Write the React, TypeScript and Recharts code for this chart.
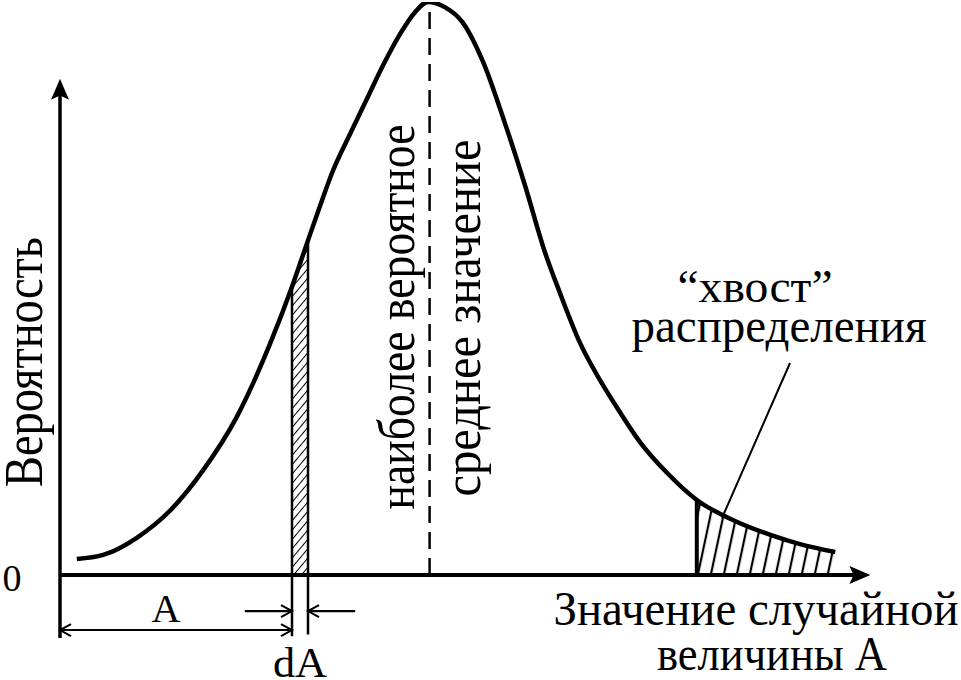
import React from "react";
import { ComposedChart, Line, Area, XAxis, YAxis, ReferenceLine } from "recharts";

// значения случайной величины A и плотность вероятности
const aValues = [
  0.21, 0.54, 0.96, 1.38, 1.79, 2.21, 2.63, 2.9, 3.1, 3.25, 3.41, 3.63, 3.84, 4.04, 4.25, 4.43, 4.6,
  4.81, 5.03, 5.29, 5.56, 5.81, 6.06, 6.25, 6.5, 6.75, 7.0, 7.25, 7.59, 7.96, 8.41, 8.88, 9.25, 9.69,
];
const density = [
  2.8, 3.5, 6.5, 11.3, 18.3, 27.6, 40.5, 50.3, 58.4, 64.4, 70.5, 77.1, 83.2, 89.0, 94.4, 98.1, 100,
  99.1, 96.5, 89.5, 78.9, 68.1, 56.4, 49.2, 40.5, 34.0, 28.4, 23.2, 17.8, 13.1, 9.6, 7.0, 5.4, 4.0,
];

const curve = aValues.map((a, i) => ({ a, p: density[i] }));

const A = 2.9;
const dA = 0.2;
const modeValue = 4.62;
const tailFrom = 7.96;

const strip = curve.filter((d) => d.a >= A - 1e-9 && d.a <= A + dA + 1e-9);
const tail = curve.filter((d) => d.a >= tailFrom);
const pAt = (a: number) => curve.find((d) => Math.abs(d.a - a) < 1e-9)?.p ?? 0;

// концы осей и выносных линий
const xAxisEnd = 10.13;
const yAxisTop = 86.6;
const belowAxis = -11;
const dimA = -9.6;
const dimDA = -6.3;

type Kind = "open" | "solid";

const head = (tx: number, ty: number, fx: number, fy: number, kind: Kind, key: string) => {
  const dx = tx - fx;
  const dy = ty - fy;
  const L = Math.hypot(dx, dy) || 1;
  const ux = dx / L;
  const uy = dy / L;
  const nx = -uy;
  const ny = ux;
  if (kind === "solid") {
    const len = 21;
    const half = 9;
    const bx = tx - ux * len;
    const by = ty - uy * len;
    const mx = tx - ux * len * 0.8;
    const my = ty - uy * len * 0.8;
    return (
      <polygon
        key={key}
        points={`${tx},${ty} ${bx + nx * half},${by + ny * half} ${mx},${my} ${bx - nx * half},${by - ny * half}`}
        fill="#000"
      />
    );
  }
  const len = 11;
  const half = 6;
  const bx = tx - ux * len;
  const by = ty - uy * len;
  return (
    <polyline
      key={key}
      points={`${bx + nx * half},${by + ny * half} ${tx},${ty} ${bx - nx * half},${by - ny * half}`}
      fill="none"
      stroke="#000"
      strokeWidth={2}
    />
  );
};

const arrowShape = (start: Kind | null, end: Kind | null, width: number) => (props: any) => {
  const { x1, y1, x2, y2 } = props;
  const L = Math.hypot(x2 - x1, y2 - y1) || 1;
  const ux = (x2 - x1) / L;
  const uy = (y2 - y1) / L;
  const ex = end === "solid" ? x2 - ux * 15 : x2;
  const ey = end === "solid" ? y2 - uy * 15 : y2;
  return (
    <g>
      <line x1={x1} y1={y1} x2={ex} y2={ey} stroke="#000" strokeWidth={width} />
      {start && head(x1, y1, x2, y2, start, "s")}
      {end && head(x2, y2, x1, y1, end, "e")}
    </g>
  );
};

const font = "'Liberation Serif', 'DejaVu Serif', serif";

export default function App() {
  const t = { fontFamily: font, fill: "#000" } as const;
  return (
    <div style={{ position: "absolute", left: 0, top: 0, width: 961, height: 680, background: "#fff" }}>
      <svg width={0} height={0} style={{ position: "absolute" }}>
        <defs>
          <pattern id="stripHatch" patternUnits="userSpaceOnUse" width={6} height={20} patternTransform="rotate(40)">
            <line x1={0} y1={0} x2={0} y2={20} stroke="#000" strokeWidth={2} />
          </pattern>
          <pattern id="tailHatch" patternUnits="userSpaceOnUse" width={12.7} height={40} patternTransform="rotate(12)">
            <line x1={2} y1={0} x2={2} y2={40} stroke="#000" strokeWidth={2.2} />
          </pattern>
        </defs>
      </svg>
      <ComposedChart width={961} height={680} margin={{ top: 2, right: 101, bottom: 105, left: 60 }}>
        <XAxis type="number" dataKey="a" domain={[0, 10]} allowDataOverflow hide />
        <YAxis type="number" domain={[0, 100]} allowDataOverflow hide />
        <Area data={strip} dataKey="p" type="linear" stroke="none" fill="url(#stripHatch)" fillOpacity={1} isAnimationActive={false} />
        <Area data={tail} dataKey="p" type="monotone" stroke="none" fill="url(#tailHatch)" fillOpacity={1} isAnimationActive={false} />

        {/* оси */}
        <ReferenceLine ifOverflow="visible" segment={[{ x: 0, y: 0 }, { x: xAxisEnd, y: 0 }]} shape={arrowShape(null, "solid", 4)} />
        <ReferenceLine ifOverflow="visible" segment={[{ x: 0, y: belowAxis }, { x: 0, y: yAxisTop }]} shape={arrowShape(null, "solid", 3.5)} />

        {/* наиболее вероятное значение */}
        <ReferenceLine ifOverflow="visible" segment={[{ x: modeValue, y: 0 }, { x: modeValue, y: 100 }]} stroke="#000" strokeWidth={2.5} strokeDasharray="17 9" />

        {/* полоска dA */}
        <ReferenceLine ifOverflow="visible" segment={[{ x: A, y: belowAxis + 0.3 }, { x: A, y: pAt(A) }]} stroke="#000" strokeWidth={2.5} />
        <ReferenceLine ifOverflow="visible" segment={[{ x: A + dA, y: belowAxis + 0.6 }, { x: A + dA, y: pAt(A + dA) }]} stroke="#000" strokeWidth={2.5} />
        <ReferenceLine ifOverflow="visible" segment={[{ x: 0, y: dimA }, { x: A, y: dimA }]} shape={arrowShape("open", "open", 2.2)} />
        <ReferenceLine ifOverflow="visible" segment={[{ x: A - 0.59, y: dimDA }, { x: A, y: dimDA }]} shape={arrowShape(null, "open", 2.2)} />
        <ReferenceLine ifOverflow="visible" segment={[{ x: A + dA + 0.59, y: dimDA }, { x: A + dA, y: dimDA }]} shape={arrowShape(null, "open", 2.2)} />

        {/* хвост */}
        <ReferenceLine ifOverflow="visible" segment={[{ x: tailFrom, y: 0 }, { x: tailFrom, y: pAt(tailFrom) }]} stroke="#000" strokeWidth={4} />
        <ReferenceLine ifOverflow="visible" segment={[{ x: 9.125, y: 37 }, { x: 8.275, y: 9.95 }]} stroke="#000" strokeWidth={2} />

        <Line data={curve} dataKey="p" type="monotone" stroke="#000" strokeWidth={4.5} dot={false} isAnimationActive={false} />
      </ComposedChart>

      <svg width={961} height={680} style={{ position: "absolute", left: 0, top: 0, pointerEvents: "none" }}>
        <text style={t} x={42} y={362} fontSize={54} textAnchor="middle" textLength={250} lengthAdjust="spacingAndGlyphs" transform="rotate(-90 42 362)">
          Вероятность
        </text>
        <text style={t} x={414} y={317} fontSize={52} textAnchor="middle" textLength={385} lengthAdjust="spacingAndGlyphs" transform="rotate(-90 414 317)">
          наиболее вероятное
        </text>
        <text style={t} x={480} y={318} fontSize={52} textAnchor="middle" textLength={357} lengthAdjust="spacingAndGlyphs" transform="rotate(-90 480 318)">
          среднее значение
        </text>
        <text style={t} x={12} y={591} fontSize={38} textAnchor="middle">0</text>
        <text style={t} x={166} y={622} fontSize={40} textAnchor="middle">A</text>
        <text style={t} x={300} y={677} fontSize={43} textAnchor="middle" textLength={54} lengthAdjust="spacingAndGlyphs">dA</text>
        <text style={t} x={756} y={625} fontSize={49} textAnchor="middle" textLength={405} lengthAdjust="spacingAndGlyphs">Значение случайной</text>
        <text style={t} x={772} y={670} fontSize={49} textAnchor="middle" textLength={230} lengthAdjust="spacingAndGlyphs">величины A</text>
        <text style={t} x={755} y={302} fontSize={46} textAnchor="middle" textLength={155} lengthAdjust="spacingAndGlyphs">“хвост”</text>
        <text style={t} x={779} y={342} fontSize={48} textAnchor="middle" textLength={295} lengthAdjust="spacingAndGlyphs">распределения</text>
      </svg>
    </div>
  );
}
